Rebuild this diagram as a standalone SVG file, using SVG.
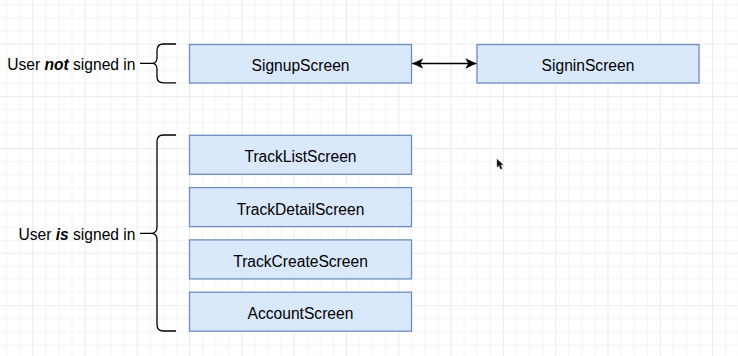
<svg xmlns="http://www.w3.org/2000/svg" width="738" height="356" viewBox="0 0 738 356">
  <defs>
    <!-- page grid: minor every 13.075px, major every fourth line -->
    <pattern id="grid" patternUnits="userSpaceOnUse" x="32.2" y="43.6" width="52.3" height="52.3">
      <path d="M13.575,0V52.3M26.65,0V52.3M39.725,0V52.3M0,13.575H52.3M0,26.65H52.3M0,39.725H52.3" stroke="#f4f4f4" stroke-width="1" fill="none"/>
      <path d="M0.5,0V52.3M0,0.5H52.3" stroke="#ebebeb" stroke-width="1" fill="none"/>
    </pattern>
    <marker id="arrow" viewBox="0 0 12 12" refX="11" refY="6" markerWidth="12" markerHeight="12" markerUnits="userSpaceOnUse" orient="auto-start-reverse">
      <path d="M11,6 L0,0.8 L2.8,6 L0,11.2 Z" fill="#000"/>
    </marker>
    <style>
      .screen rect { fill: #dae8fc; stroke: #6c8ebf; stroke-width: 1.3; }
      .screen text { font-family: "Liberation Sans", Arial, Helvetica, sans-serif; font-size: 15.6px; fill: #000; text-anchor: middle; }
      .label { font-family: "Liberation Sans", Arial, Helvetica, sans-serif; font-size: 15.6px; fill: #000; text-anchor: end; }
      .label tspan.em { font-weight: bold; font-style: italic; }
      .brace { fill: none; stroke: #000; stroke-width: 1.3; stroke-linejoin: round; }
      .link { fill: none; stroke: #000; stroke-width: 1.3; }
    </style>
  </defs>

  <rect width="738" height="356" fill="#ffffff"/>
  <rect width="738" height="356" fill="url(#grid)"/>

  <!-- group labels with their brackets -->
  <g id="not-signed-in">
    <text class="label" x="135.5" y="70">User <tspan class="em">not</tspan> signed in</text>
    <path class="brace" d="M140,63.4 H152 M176,44 H163.5 Q157,44 157,50.5 V57.5 Q157,63.4 152,63.4 Q157,63.4 157,69.3 V76.5 Q157,82.8 163.5,82.8 H176"/>
  </g>
  <g id="signed-in">
    <text class="label" x="135.5" y="240">User <tspan class="em">is</tspan> signed in</text>
    <path class="brace" d="M140,233.4 H151 M176,135 H163.5 Q157,135 157,141.5 V227 Q157,233.4 151,233.4 Q157,233.4 157,239.8 V324.5 Q157,331 163.5,331 H176"/>
  </g>

  <!-- screens -->
  <g id="signup-screen" class="screen">
    <rect x="189.5" y="44.5" width="222" height="38.5"/>
    <text x="300.5" y="71.2">SignupScreen</text>
  </g>
  <g id="signin-screen" class="screen">
    <rect x="477" y="44.5" width="222" height="38.5"/>
    <text x="588" y="71.2">SigninScreen</text>
  </g>
  <g id="tracklist-screen" class="screen">
    <rect x="189.5" y="135.3" width="222" height="39"/>
    <text x="300.5" y="162.3">TrackListScreen</text>
  </g>
  <g id="trackdetail-screen" class="screen">
    <rect x="189.5" y="187.6" width="222" height="39"/>
    <text x="300.5" y="214.6">TrackDetailScreen</text>
  </g>
  <g id="trackcreate-screen" class="screen">
    <rect x="189.5" y="239.9" width="222" height="39"/>
    <text x="300.5" y="266.9">TrackCreateScreen</text>
  </g>
  <g id="account-screen" class="screen">
    <rect x="189.5" y="292.2" width="222" height="39"/>
    <text x="300.5" y="319.2">AccountScreen</text>
  </g>

  <!-- connectors -->
  <g id="connectors">
    <path class="link" d="M412.2,63.5 H476.4" marker-start="url(#arrow)" marker-end="url(#arrow)"/>
  </g>

  <!-- mouse pointer -->
  <path d="M497,159 L497,167.3 L499,165.6 L500.6,169.3 L502.2,168.6 L500.6,165 L503.2,164.8 Z" fill="#111" stroke="#555" stroke-width="0.4"/>
</svg>
